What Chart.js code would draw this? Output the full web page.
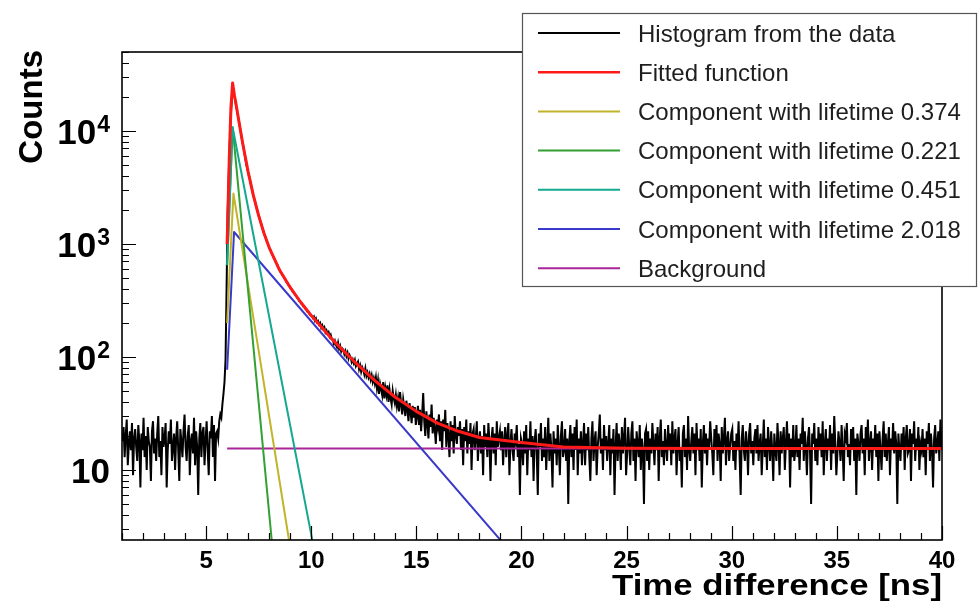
<!DOCTYPE html>
<html>
<head>
<meta charset="utf-8">
<script src="https://cdn.jsdelivr.net/npm/chart.js@4.4.1/dist/chart.umd.min.js"></script>
<style>
  html, body { margin: 0; padding: 0; background: #fff; }
  canvas { display: block; }
</style>
</head>
<body>
<canvas id="chart" width="978" height="603"></canvas>
<script>
// ---- Histogram of measured time differences (0.05 ns bins starting at 1 ns) ----
const histStart = 1.0;
const histBinWidth = 0.05;
const histCounts = [
  // 1.0 - 5.5 ns : flat random-coincidence level
  18,24,13,20,28,11,17,22,15,26,9,19,23,16,12,25,18,7,21,15,
  29,13,20,10,24,18,16,8,22,27,14,19,12,21,30,13,18,9,24,16,
  19,26,7,15,22,17,28,12,16,21,10,19,27,15,8,23,18,13,22,31,
  16,12,20,25,9,18,21,14,29,11,22,16,6,19,26,13,21,24,11,18,
  27,15,9,22,19,30,13,25,8,21,
  // 5.5 - 6.0 ns : rising edge
  22,19,27,31,29,38,47,60,95,420,
  // 6.0 - 7.0 ns : prompt peak
  1900,3900,7700,13400,19500,23500,21300,19200,16700,15100,
  13200,11800,10300,9150,8000,7250,6350,5550,4950,4480,
  // 7.0 - 10.0 ns
  4100,3790,3380,3120,2790,2560,2390,2160,2020,1840,
  1730,1590,1500,1380,1300,1210,1150,1070,1020,955,
  905,872,822,795,748,727,682,664,622,603,
  572,559,530,522,495,487,460,455,430,423,
  402,398,377,374,355,352,334,332,314,312,
  298,295,280,279,266,262,251,250,238,234,
  // 10.0 - 20.0 ns : long-lived tail
  231,222,228,210,219,203,208,194,200,181,190,176,183,165,172,160,166,151,157,144,
  143,131,139,128,122,134,118,125,112,119,116,106,113,102,109,97,104,99,90,95,
  88,94,83,87,91,78,84,74,81,77,70,79,68,73,66,71,63,69,60,65,
  58,66,53,62,47,58,52,46,60,43,53,46,56,40,51,43,38,50,43,39,
  46,37,43,33,49,38,31,42,36,30,41,34,27,39,33,26,37,29,36,25,
  30,37,25,34,22,31,48,27,20,33,26,19,31,24,38,21,29,23,17,28,
  24,31,18,27,15,28,22,34,16,26,20,13,27,18,25,14,30,20,17,24,
  20,27,15,23,11,24,18,28,14,22,17,26,10,21,23,15,19,27,12,18,
  22,14,20,9,25,16,21,13,26,18,8,19,24,14,21,11,27,16,19,22,
  15,22,11,18,24,13,20,26,9,17,23,15,12,21,18,25,13,17,6,19,
  // 20.0 - 40.0 ns : flat background
  17,11,22,14,25,9,19,15,27,13,20,8,18,23,14,6,21,16,26,12,
  19,13,24,10,17,29,12,21,15,7,22,14,19,11,25,16,9,20,27,13,
  15,23,12,19,5,18,25,13,21,10,24,15,28,9,19,14,22,11,17,26,
  11,21,15,24,13,8,19,27,12,18,22,9,16,21,31,14,19,10,25,15,
  20,12,17,25,9,19,14,23,6,16,26,12,21,17,10,24,14,19,29,9,
  14,24,16,11,21,27,12,19,8,22,17,13,25,10,19,15,5,21,23,12,
  22,10,19,14,26,17,11,21,15,24,8,19,28,13,18,11,23,16,12,25,
  15,21,11,27,14,19,23,9,17,24,12,16,7,21,25,13,19,10,30,15,
  12,18,24,14,21,9,26,15,19,12,23,7,17,25,14,21,11,19,16,27,
  19,14,9,23,16,25,12,21,17,8,24,14,19,29,11,18,22,12,16,21,
  23,12,18,10,21,15,27,13,6,19,25,15,12,22,17,9,21,26,14,18,
  11,19,23,14,25,12,17,21,9,16,28,13,19,10,24,17,12,22,15,8,
  21,15,12,26,17,9,22,14,19,24,10,17,27,15,21,7,19,13,25,12,
  15,25,13,19,10,21,17,29,12,22,16,9,19,24,14,5,21,17,26,12,
  19,11,24,15,21,13,27,9,17,23,12,19,15,25,10,21,14,30,17,9,
  14,22,17,12,25,15,8,21,19,26,13,17,11,23,16,24,12,19,6,21,
  17,12,21,25,14,19,9,24,15,28,12,17,22,10,19,15,25,13,21,8,
  22,15,10,19,27,13,21,12,17,24,9,19,15,26,14,22,17,5,21,15,
  12,21,16,24,10,19,25,14,15,23,8,21,17,27,12,19,15,24,10,17,
  15,23,13,19,9,22,17,26,12,21,15,7,19,25,14,17,22,12,28,15
];

// ---- Fitted function, sampled along the time axis ----
const fitTimes  = [6.0, 6.1, 6.18, 6.26, 6.35, 6.4, 6.5, 6.6, 6.75, 7.0, 7.25, 7.5, 7.75, 8.0, 8.5, 9.0, 9.5, 10, 10.5, 11, 11.5, 12, 13, 14, 15, 16, 17, 18, 19, 20, 22, 25, 30, 40];
const fitValues = [1000, 5500, 16000, 26600, 20500, 18300, 14200, 11000, 7600, 4350, 2680, 1780, 1250, 930, 585, 412, 305, 233, 183, 143, 115, 93, 62.5, 44, 33, 26, 22, 19.4, 18.4, 17.5, 16, 15.6, 15.5, 15.5];

// ---- Lifetime components (start, peak, end of the exponential tail) ----
const comp374Times  = [6.0, 6.3, 9.5];
const comp374Values = [200, 2800, 0.54];
const comp221Times  = [6.0, 6.26, 8.5];
const comp221Values = [650, 10800, 0.43];
const comp451Times  = [6.0, 6.26, 10.6];
const comp451Values = [650, 10800, 0.71];
const comp2018Times  = [6.0, 6.33, 21.0];
const comp2018Values = [77, 1277, 0.89];
const backgroundTimes  = [6.0, 40.0];
const backgroundValues = [15.5, 15.5];

// ---- Axis ticks ----
const xTickValues = [5, 10, 15, 20, 25, 30, 35, 40];
const yTickExponents = [1, 2, 3, 4];

// ---- Series labels ----
const seriesLabels = [
  'Histogram from the data',
  'Fitted function',
  'Component with lifetime 0.374',
  'Component with lifetime 0.221',
  'Component with lifetime 0.451',
  'Component with lifetime 2.018',
  'Background'
];

const pts = (ts, vs) => ts.map((t, i) => ({ x: t, y: vs[i] }));
const histPoints = histCounts.map((c, i) => ({ x: histStart + histBinWidth * (i + 0.5), y: c }));

const FONT = '"Liberation Sans", Arial, Helvetica, sans-serif';

const lineDefaults = { pointRadius: 0, tension: 0, clip: 0, fill: false, borderJoinStyle: 'round' };

const datasets = [
  { ...lineDefaults, label: seriesLabels[0], data: histPoints, borderColor: '#000000', borderWidth: 2, borderJoinStyle: 'miter', order: 6 },
  { ...lineDefaults, label: seriesLabels[1], data: pts(fitTimes, fitValues), borderColor: '#ff1a1a', borderWidth: 3, order: 0 },
  { ...lineDefaults, label: seriesLabels[2], data: pts(comp374Times, comp374Values), borderColor: '#c2b42a', borderWidth: 2, order: 3 },
  { ...lineDefaults, label: seriesLabels[3], data: pts(comp221Times, comp221Values), borderColor: '#33a033', borderWidth: 2, order: 2 },
  { ...lineDefaults, label: seriesLabels[4], data: pts(comp451Times, comp451Values), borderColor: '#14a890', borderWidth: 2, order: 1 },
  { ...lineDefaults, label: seriesLabels[5], data: pts(comp2018Times, comp2018Values), borderColor: '#3a3ac8', borderWidth: 2, order: 4 },
  { ...lineDefaults, label: seriesLabels[6], data: pts(backgroundTimes, backgroundValues), borderColor: '#a8259a', borderWidth: 2, order: 5 }
];

// Frame, inward ticks, y labels with exponents, axis titles and the legend box
const decor = {
  id: 'decor',
  afterDatasetsDraw(chart) {
    const { ctx, chartArea: a, scales: { x, y } } = chart;
    ctx.save();
    ctx.strokeStyle = '#000';
    ctx.lineWidth = 1.6;
    ctx.strokeRect(a.left, a.top, a.right - a.left, a.bottom - a.top);

    ctx.lineWidth = 1.2;
    ctx.beginPath();
    for (let v = Math.ceil(x.min); v <= x.max; v++) {
      const px = Math.round(x.getPixelForValue(v)) + 0.5;
      const len = v % 5 === 0 ? 14 : 7;
      ctx.moveTo(px, a.bottom);
      ctx.lineTo(px, a.bottom - len);
    }
    for (let e = 0; e <= 5; e++) {
      for (let m = 1; m <= 9; m++) {
        const v = m * Math.pow(10, e);
        if (v < y.min || v > y.max) continue;
        const py = Math.round(y.getPixelForValue(v)) + 0.5;
        const len = m === 1 ? 14 : 7;
        ctx.moveTo(a.left, py);
        ctx.lineTo(a.left + len, py);
      }
    }
    ctx.stroke();

    // y tick labels: 10, 10^2, 10^3, 10^4
    ctx.fillStyle = '#000';
    ctx.textBaseline = 'alphabetic';
    ctx.textAlign = 'left';
    const labelRight = a.left - 12;
    for (const e of yTickExponents) {
      const py = y.getPixelForValue(Math.pow(10, e));
      let right = labelRight;
      if (e > 1) {
        ctx.font = 'bold 23px ' + FONT;
        const ew = ctx.measureText(String(e)).width;
        ctx.fillText(String(e), right - ew, py + 1);
        right -= ew + 1;
      }
      ctx.font = 'bold 35px ' + FONT;
      const bw = ctx.measureText('10').width;
      ctx.fillText('10', right - bw, py + 13);
    }

    // y axis title
    ctx.save();
    ctx.translate(42, a.top - 2);
    ctx.rotate(-Math.PI / 2);
    ctx.font = 'bold 33px ' + FONT;
    ctx.textAlign = 'right';
    ctx.fillText('Counts', 0, 0);
    ctx.restore();

    // x axis title, right-aligned with the frame
    ctx.save();
    ctx.font = 'bold 29px ' + FONT;
    const title = 'Time difference [ns]';
    const tw = ctx.measureText(title).width;
    ctx.translate(a.right, 595);
    ctx.scale(330 / tw, 1);
    ctx.textAlign = 'right';
    ctx.fillText(title, 0, 0);
    ctx.restore();

    ctx.restore();
  },
  afterDraw(chart) {
    const { ctx } = chart;
    ctx.save();
    const box = { left: 522, top: 13, right: 977, bottom: 287 };
    ctx.fillStyle = '#fff';
    ctx.fillRect(box.left, box.top, box.right - box.left, box.bottom - box.top);
    ctx.strokeStyle = '#555';
    ctx.lineWidth = 1.2;
    ctx.strokeRect(box.left + 0.5, box.top + 0.5, box.right - box.left - 1, box.bottom - box.top - 1);

    ctx.font = '24px ' + FONT;
    ctx.textAlign = 'left';
    ctx.textBaseline = 'alphabetic';
    chart.data.datasets.forEach((ds, i) => {
      const rowY = 33 + i * 39.2;
      ctx.strokeStyle = ds.borderColor;
      ctx.lineWidth = i === 1 ? 2.5 : 2;
      ctx.beginPath();
      ctx.moveTo(538, rowY);
      ctx.lineTo(620, rowY);
      ctx.stroke();
      ctx.fillStyle = '#1e1e1e';
      ctx.fillText(ds.label, 638, rowY + 8.6);
    });
    ctx.restore();
  }
};

new Chart(document.getElementById('chart').getContext('2d'), {
  type: 'line',
  data: { datasets },
  options: {
    responsive: false,
    animation: false,
    events: [],
    layout: { padding: { top: 52, right: 36, left: 0, bottom: 0 } },
    plugins: { legend: { display: false }, tooltip: { enabled: false } },
    scales: {
      x: {
        type: 'linear',
        min: 1,
        max: 40,
        afterFit(scale) { scale.height = 63; },
        afterBuildTicks(scale) { scale.ticks = xTickValues.map(v => ({ value: v })); },
        grid: { display: false, drawTicks: false },
        border: { display: false },
        ticks: {
          autoSkip: false,
          maxRotation: 0,
          padding: 7,
          color: '#000',
          font: { family: FONT, size: 24, weight: 'bold' }
        }
      },
      y: {
        type: 'logarithmic',
        min: 2.4,
        max: 50000,
        afterFit(scale) { scale.width = 122; },
        grid: { display: false, drawTicks: false },
        border: { display: false },
        ticks: { display: false }
      }
    }
  },
  plugins: [decor]
});
</script>
</body>
</html>
